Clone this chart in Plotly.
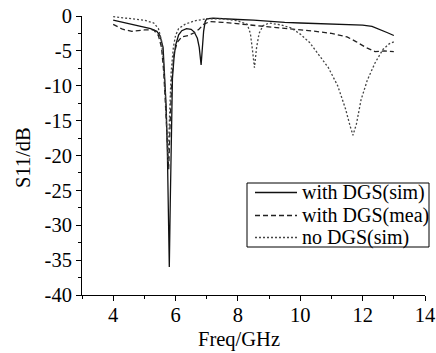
import plotly.graph_objects as go

# with DGS (sim)
f_sim = [4.0, 4.5, 5.0, 5.2, 5.4, 5.5, 5.6, 5.66, 5.7, 5.74, 5.77, 5.80, 5.83, 5.85, 5.88, 5.90,
         5.95, 6.0, 6.1, 6.2, 6.35, 6.5, 6.6, 6.7, 6.76, 6.80, 6.82, 6.85, 6.9, 6.95, 7.0, 7.2,
         7.5, 8.0, 8.5, 9.0, 9.5, 10.0, 10.5, 11.0, 11.5, 12.0, 12.3, 12.6, 12.8, 13.0]
s_sim = [-0.6, -1.1, -1.6, -1.8, -2.2, -2.8, -4.5, -9, -13, -20, -27, -36, -27, -20, -13, -9,
         -6, -4.2, -2.7, -2.1, -1.8, -1.9, -2.3, -3.2, -4.5, -6.2, -7.0, -5.2, -2.2, -0.8, -0.4, -0.3,
         -0.4, -0.5, -0.6, -0.8, -0.9, -1.0, -1.1, -1.2, -1.2, -1.3, -1.5, -2.0, -2.4, -2.8]

# with DGS (mea)
f_mea = [4.0, 4.3, 4.6, 5.0, 5.3, 5.45, 5.55, 5.62, 5.68, 5.73, 5.78, 5.83, 5.88, 5.95, 6.05,
         6.2, 6.4, 6.6, 6.75, 6.9, 7.1, 7.5, 8.0, 8.5, 9.0, 9.5, 10.0, 10.5, 11.0, 11.5, 11.8,
         12.1, 12.4, 12.7, 13.0]
s_mea = [-1.2, -1.9, -2.2, -2.0, -2.0, -2.8, -4.5, -8, -13, -18, -22, -15, -9, -5.5, -3.8,
         -3.0, -2.8, -2.4, -1.9, -1.2, -0.8, -0.9, -1.1, -1.3, -1.5, -1.8, -2.0, -2.2, -2.5, -3.0, -3.7,
         -4.5, -5.1, -5.0, -5.1]

# no DGS (sim)
f_no = [4.0, 4.5, 5.0, 5.3, 5.45, 5.55, 5.62, 5.68, 5.72, 5.76, 5.81, 5.86, 5.93, 6.0, 6.1,
        6.3, 6.6, 7.0, 7.5, 8.0, 8.3, 8.4, 8.47, 8.53, 8.6, 8.68, 8.8, 9.0, 9.4, 9.7, 10.0,
        10.3, 10.6, 10.9, 11.2, 11.45, 11.6, 11.69, 11.8, 11.95, 12.15, 12.4, 12.65, 12.85, 13.0]
s_no = [-0.1, -0.3, -0.6, -1.0, -1.8, -3.5, -7, -12, -17, -21, -14, -8, -4.5, -2.8, -1.8,
        -1.2, -0.7, -0.4, -0.4, -0.7, -1.2, -2.5, -5, -7.4, -4.5, -2.5, -1.4, -1.0, -1.3, -1.7, -2.6,
        -3.8, -5.6, -7.4, -10, -13.3, -15.8, -17.1, -15.5, -12, -9.2, -6.7, -4.8, -4.0, -3.7]

series_names = ["with DGS(sim)", "with DGS(mea)", "no DGS(sim)"]

x_tickvals = [4, 6, 8, 10, 12, 14]
x_ticktext = ["4", "6", "8", "10", "12", "14"]
y_tickvals = [0, -5, -10, -15, -20, -25, -30, -35, -40]
y_ticktext = ["0", "-5", "-10", "-15", "-20", "-25", "-30", "-35", "-40"]
x_title = "Freq/GHz"
y_title = "S11/dB"

FONT = "Liberation Serif"
FS = 20.5
LFS = 20

styles = [
    dict(color="#111111", width=1.3),
    dict(color="#222222", width=1.3, dash="5px,3px"),
    dict(color="#444444", width=1.3, dash="2px,2px"),
]

fig = go.Figure()
for fx, sy, name, st in zip([f_sim, f_mea, f_no], [s_sim, s_mea, s_no], series_names, styles):
    fig.add_trace(go.Scatter(x=fx, y=sy, mode="lines", name=name, line=st, showlegend=False))

axis_common = dict(showgrid=False, zeroline=False, showline=True, linecolor="black",
                   linewidth=1, ticks="outside", tickcolor="black", ticklen=5,
                   automargin=False,
                   tickfont=dict(family=FONT, size=FS, color="black"))

# plot area in pixels (for the hand-drawn legend box and titles)
L, R, T, B = 82, 11, 16, 58
W, H = 436, 353
pw, ph = W - L - R, H - T - B
def px(x):
    return (x - L) / pw
def py(y):
    return (H - B - y) / ph

shapes = [dict(type="rect", xref="paper", yref="paper",
               x0=px(247), x1=px(429), y0=py(247), y1=py(183),
               line=dict(color="black", width=1), fillcolor="white", layer="above")]
annotations = []
row_y = [192.5, 215.5, 237.5]
for name, st, ry in zip(series_names, styles, row_y):
    shapes.append(dict(type="line", xref="paper", yref="paper",
                       x0=px(255), x1=px(297), y0=py(ry), y1=py(ry),
                       line=st, layer="above"))
    annotations.append(dict(text=name, xref="paper", yref="paper", x=px(300), y=py(ry),
                            xanchor="left", yanchor="middle", showarrow=False,
                            font=dict(family=FONT, size=LFS, color="black")))

annotations.append(dict(text=x_title, xref="paper", yref="paper", x=px(239), y=py(339),
                        xanchor="center", yanchor="middle", showarrow=False,
                        font=dict(family=FONT, size=FS, color="black")))
annotations.append(dict(text=y_title, xref="paper", yref="paper", x=px(23), y=py(158),
                        xanchor="center", yanchor="middle", showarrow=False, textangle=-90,
                        font=dict(family=FONT, size=FS, color="black")))

fig.update_layout(
    width=W, height=H,
    margin=dict(l=L, r=R, t=T, b=B),
    paper_bgcolor="white", plot_bgcolor="white",
    font=dict(family=FONT, size=FS, color="black"),
    xaxis=dict(range=[3, 14], tickvals=x_tickvals, ticktext=x_ticktext,
               minor=dict(ticks="outside", dtick=1, tick0=0, ticklen=3, tickcolor="black"),
               ticklabelstandoff=-4,
               **axis_common),
    yaxis=dict(range=[-40, 0], tickvals=y_tickvals, ticktext=y_ticktext,
               minor=dict(ticks="outside", dtick=2.5, tick0=0, ticklen=3, tickcolor="black"),
               **axis_common),
    shapes=shapes,
    annotations=annotations,
    showlegend=False,
)

fig.write_html("out.html", config={"displayModeBar": False},
               post_script="document.body.style.margin='0';document.body.style.overflow='hidden';")
